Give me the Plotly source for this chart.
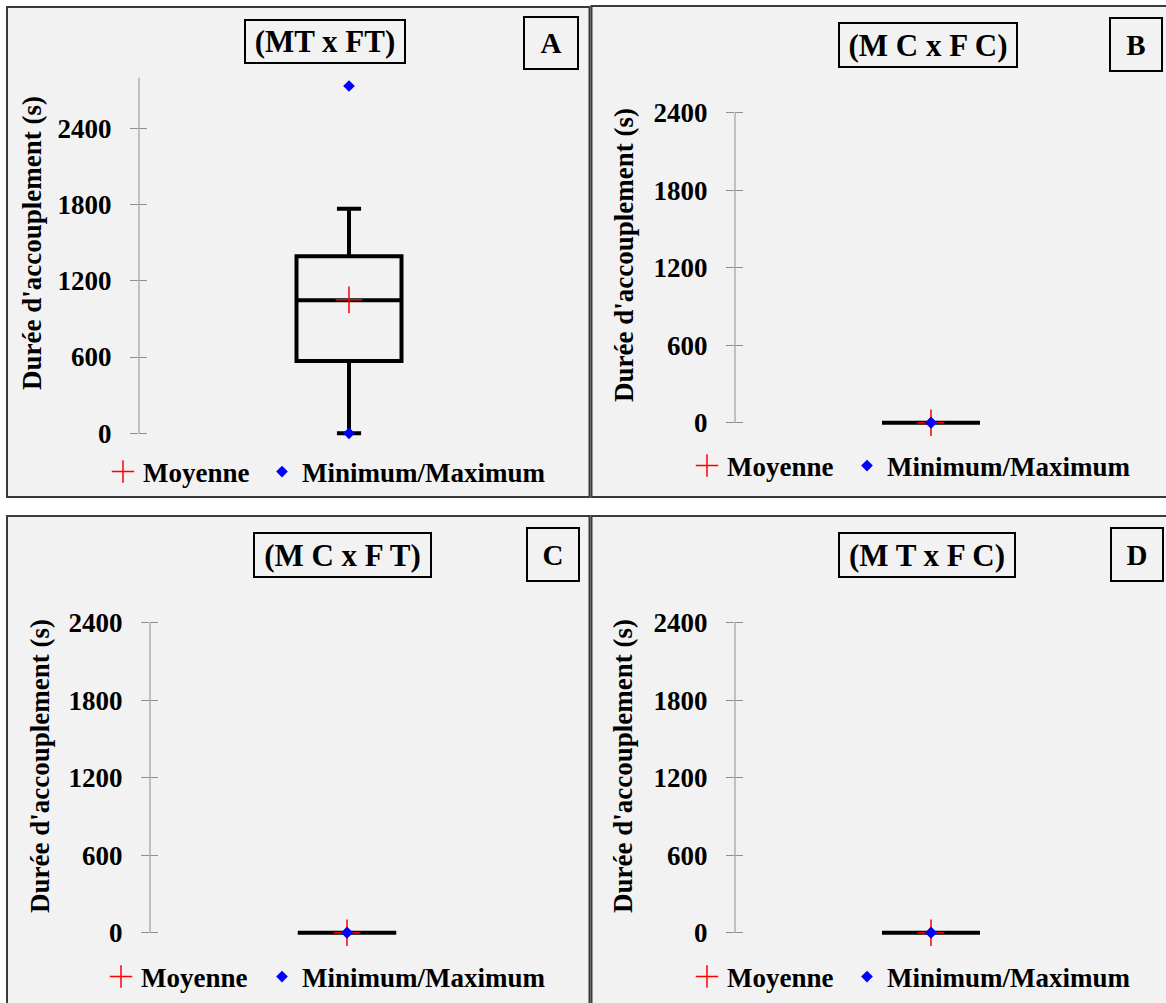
import plotly.graph_objects as go

# ---------------- data ----------------
panel_letters = ["A", "B", "C", "D"]
panel_titles = ["(MT x FT)", "(M C x F C)", "(M C x F T)", "(M T x F C)"]
q1 = [569, 0, 0, 0]
median = [1046, 0, 0, 0]
q3 = [1393, 0, 0, 0]
lower_whisker = [0, 0, 0, 0]
upper_whisker = [1767, 0, 0, 0]
mean = [1050, 0, 0, 0]
minimum = [0, 0, 0, 0]
maximum = [2733, 0, 0, 0]
tick_values = [0, 600, 1200, 1800, 2400]
axis_top = [2800, 2400, 2400, 2400]
y_title = "Durée d'accouplement (s)"
legend_names = ["Moyenne", "Minimum/Maximum"]

# ---------------- layout geometry (pixels) ----------------
W, H = 1166, 1003
FONT = "Liberation Serif, Times New Roman, serif"
GRAY = "#8f8f8f"
FS = 27

geom = [
    dict(frame=(7, 7, 589.5, 497), axis_x=139, center=349, px0=433.3, px2400=128.3,
         title=(325, 41.5, 162, 45), letter=(551, 43, 56, 54), ytitle=(32, 243),
         legend_x=(103, 262), legend_y=472),
    dict(frame=(591.5, 6, 1175, 497), axis_x=735, center=931, px0=422.7, px2400=112.7,
         title=(928, 45, 180, 46), letter=(1136, 44.5, 54, 55), ytitle=(624, 255),
         legend_x=(687, 847), legend_y=466),
    dict(frame=(7, 516, 589.5, 1012), axis_x=150, center=347, px0=932.7, px2400=622.7,
         title=(342, 555, 179, 46), letter=(553, 554, 54, 55), ytitle=(40, 766),
         legend_x=(101, 262), legend_y=977),
    dict(frame=(591.5, 516, 1175, 1012), axis_x=735, center=931, px0=932.7, px2400=622.7,
         title=(927, 555, 178, 46), letter=(1137, 554, 54, 55), ytitle=(623, 766),
         legend_x=(687, 847), legend_y=977),
]


def fx(p):
    return p / W


def fy(p):
    return 1 - p / H


def legend_id(n):
    return "legend" if n == 1 else "legend" + str(n)


fig = go.Figure()
layout = dict(
    width=W, height=H, margin=dict(l=0, r=0, t=0, b=0, autoexpand=False),
    paper_bgcolor="white", plot_bgcolor="rgba(0,0,0,0)",
    font=dict(family=FONT, size=FS, color="black", weight="bold"),
    showlegend=True,
)
shapes = []
annotations = []

for i in range(4):
    g = geom[i]
    k = "" if i == 0 else str(i + 1)
    xa, ya = "x" + k, "y" + k
    ov = "y" + str(i + 5)
    lg_mean = legend_id(2 * i + 1)
    lg_mm = legend_id(2 * i + 2)

    fig.add_trace(go.Box(
        x=[0], q1=[q1[i]], median=[median[i]], q3=[q3[i]],
        lowerfence=[lower_whisker[i]], upperfence=[upper_whisker[i]],
        xaxis=xa, yaxis=ya, width=0.5, whiskerwidth=0.23,
        line=dict(color="black", width=4), fillcolor="rgba(0,0,0,0)",
        boxpoints=False, showlegend=False, hoverinfo="skip",
    ))
    fig.add_trace(go.Scatter(
        x=[0], y=[mean[i]], mode="markers", name=legend_names[0],
        xaxis=xa, yaxis=ya, legend=lg_mean, cliponaxis=False,
        marker=dict(symbol="cross-thin", size=19, color="red",
                    line=dict(color="red", width=1.5)),
    ))
    fig.add_trace(go.Scatter(
        x=[0, 0], y=[minimum[i], maximum[i]], mode="markers", name=legend_names[1],
        xaxis=xa, yaxis=ya, legend=lg_mm, cliponaxis=False,
        marker=dict(symbol="diamond", size=9, color="blue"),
    ))
    # invisible trace so the overlay axis (crossing ticks) is drawn
    fig.add_trace(go.Scatter(x=[], y=[], xaxis=xa, yaxis=ov, showlegend=False,
                             hoverinfo="skip"))

    scale = (g["px0"] - g["px2400"]) / 2400.0
    lo, hi = -100, max(axis_top[i], 2410)
    bottom_px = g["px0"] - lo * scale
    top_px = g["px0"] - hi * scale
    ydom = [fy(bottom_px), fy(top_px)]
    xdom = [fx(g["axis_x"]), fx(2 * g["center"] - g["axis_x"])]

    layout["xaxis" + k] = dict(domain=xdom, range=[-1, 1], visible=False,
                               anchor=ya, fixedrange=True)
    layout["yaxis" + k] = dict(
        domain=ydom, range=[lo, hi], anchor=xa, tickvals=tick_values,
        ticks="outside", ticklen=8, tickcolor=GRAY, tickwidth=1,
        showline=False, showgrid=False, zeroline=False, fixedrange=True,
        tickfont=dict(family=FONT, size=FS, color="black", weight="bold"),
        ticklabelstandoff=13, automargin=False,
    )
    layout["yaxis" + str(i + 5)] = dict(
        overlaying=ya, matches=ya, anchor=xa, side="left", tickvals=tick_values,
        ticks="inside", ticklen=8, tickcolor=GRAY, tickwidth=1,
        showticklabels=False, showline=False, showgrid=False, zeroline=False,
        fixedrange=True, automargin=False,
    )

    # panel frame
    x0, y0, x1, y1 = g["frame"]
    shapes.append(dict(type="rect", xref="paper", yref="paper",
                       x0=fx(x0), x1=fx(x1), y0=fy(y1), y1=fy(y0),
                       fillcolor="#f2f2f2", line=dict(color="#3a3a3a", width=2),
                       layer="below"))
    # axis line from 0 to the axis top
    shapes.append(dict(type="line", xref=xa + " domain", x0=0, x1=0,
                       yref=ya, y0=0, y1=axis_top[i],
                       line=dict(color=GRAY, width=1)))

    # title box
    cx, cy, w, h = g["title"]
    annotations.append(dict(
        text=panel_titles[i], xref="paper", yref="paper", x=fx(cx), y=fy(cy),
        xanchor="center", yanchor="middle", showarrow=False,
        width=w - 4, height=h - 4, borderpad=0, bordercolor="black", borderwidth=2,
        font=dict(family=FONT, size=31, color="black", weight="bold"),
    ))
    # letter box
    cx, cy, w, h = g["letter"]
    annotations.append(dict(
        text=panel_letters[i], xref="paper", yref="paper", x=fx(cx), y=fy(cy),
        xanchor="center", yanchor="middle", showarrow=False,
        width=w - 4, height=h - 4, borderpad=0, bordercolor="black", borderwidth=2,
        font=dict(family=FONT, size=29, color="black", weight="bold"),
    ))
    # y axis title
    cx, cy = g["ytitle"]
    annotations.append(dict(
        text=y_title, xref="paper", yref="paper", x=fx(cx), y=fy(cy),
        xanchor="center", yanchor="middle", showarrow=False, textangle=-90,
        font=dict(family=FONT, size=FS, color="black", weight="bold"),
    ))

    for lg, lx in zip((lg_mean, lg_mm), g["legend_x"]):
        layout[lg] = dict(
            orientation="h", x=fx(lx), y=fy(g["legend_y"]),
            xanchor="left", yanchor="middle",
            xref="paper", yref="paper", bgcolor="rgba(0,0,0,0)", borderwidth=0,
            font=dict(family=FONT, size=FS, color="black", weight="bold"),
            itemclick=False, itemdoubleclick=False,
        )

layout["shapes"] = shapes
layout["annotations"] = annotations
fig.update_layout(**layout)
fig.write_html(
    "out.html",
    config={"displayModeBar": False},
    post_script=(
        "document.documentElement.style.margin='0';"
        "document.body.style.margin='0';document.body.style.padding='0';"
        "document.body.style.overflow='hidden';"
    ),
)
